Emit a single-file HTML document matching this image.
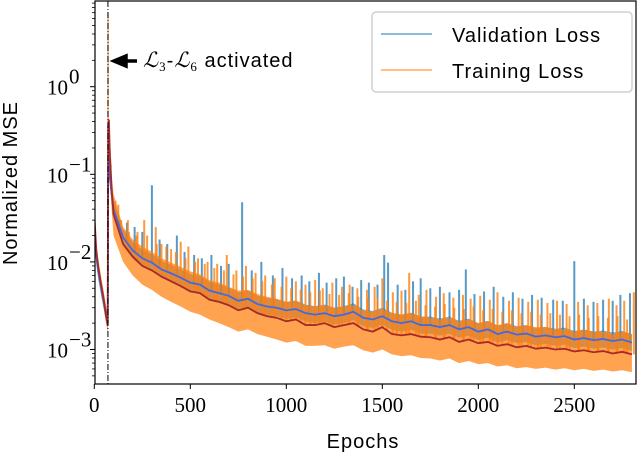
<!DOCTYPE html>
<html><head><meta charset="utf-8"><style>
body{margin:0;background:#fff;width:638px;height:460px;overflow:hidden}
svg{display:block}
.tk{font-family:"Liberation Serif",serif;font-size:21px;fill:#000}
.lb{font-family:"Liberation Sans",sans-serif;font-size:20px;fill:#000;letter-spacing:1px}
</style></head><body>
<svg id="chart" width="638" height="460"></svg>
<script>
const epochs=[0,10,20,30,40,50,60,70,72,76,80,90,100,150,200,250,300,350,400,450,500,550,600,650,700,750,800,850,900,950,1000,1050,1100,1150,1200,1250,1300,1350,1400,1450,1500,1550,1600,1650,1700,1750,1800,1850,1900,1950,2000,2050,2100,2150,2200,2250,2300,2350,2400,2450,2500,2550,2600,2650,2700,2750,2800];
const valMean=[0.03,0.012,0.008,0.006,0.0045,0.0035,0.0026,0.002,0.08,0.15,0.1,0.06,
.040,.019,.0135,.0110,.0098,.0082,.0074,.0066,.0058,.0055,.0047,.0044,.0041,.0036,.0038,.0033,.0031,.0030,.0028,.0029,.0026,.0025,.0026,.0024,.0025,.0027,.0023,.0022,.0024,.0021,.0020,.0021,.0019,.0019,.0018,.0019,.0017,.0018,.0016,.0017,.0015,.0016,.00148,.00152,.0014,.00145,.00138,.00142,.0013,.00135,.00128,.00132,.00125,.0013,.0012];
const trainMean=[0.035,0.014,0.009,0.0065,0.0048,0.0036,0.0025,0.0019,0.35,0.42,0.2,0.07,
.035,.016,.0115,.0090,.0080,.0068,.0060,.0053,.0046,.0044,.0037,.0035,.0032,.0028,.0030,.0026,.0024,.0023,.0021,.0022,.0019,.0019,.0020,.0018,.0019,.0020,.0017,.0016,.0018,.0015,.00145,.0015,.0014,.00138,.0013,.00138,.00122,.0013,.00118,.00122,.0011,.00115,.00106,.0011,.00102,.00105,.001,.00102,.00095,.00098,.00093,.00096,.0009,.00094,.00088];
const trainLow=[.03,.012,.0075,.0055,.004,.003,.0021,.0016,.2,.25,.1,.04,
.02,.010,.0070,.0055,.0048,.0040,.0035,.0031,.0027,.0025,.0022,.0020,.0018,.0016,.0017,.0015,.0014,.0013,.0012,.00125,.0011,.0011,.00112,.00102,.00108,.00112,.00098,.00092,.001,.00088,.00084,.00086,.0008,.00079,.00075,.00079,.0007,.00074,.00068,.0007,.00064,.00066,.00061,.00063,.0006,.00062,.00059,.00061,.00058,.0006,.00057,.00059,.00056,.00058,.00055];
const trainHigh=[.04,.016,.011,.008,.006,.0045,.0032,.0026,.4,.45,.25,.1,
.06,.025,.018,.015,.013,.011,.0098,.0088,.0078,.0072,.0062,.0058,.0052,.0047,.0048,.0043,.004,.0038,.0035,.0036,.0032,.0031,.0032,.003,.0031,.0032,.0028,.0027,.0029,.0026,.0025,.0026,.0024,.0023,.0022,.0023,.0021,.0022,.002,.0021,.0019,.002,.0018,.0019,.0018,.0018,.0017,.0017,.0016,.0017,.0016,.0016,.0015,.0016,.0015];
const valSpikeEpochs=[130,170,210,250,300,340,380,430,470,520,560,610,660,700,770,820,870,930,980,1030,1080,1120,1170,1210,1260,1300,1345,1390,1430,1475,1510,1530,1580,1620,1660,1700,1750,1800,1850,1900,1935,1980,2030,2080,2130,2180,2230,2280,2330,2390,2440,2500,2550,2600,2650,2700,2740,2790];
const valSpikeValues=[0.03,0.028,0.025,0.022,0.075,0.018,0.016,0.02,0.013,0.012,0.011,0.012,0.009,0.0095,0.048,0.008,0.01,0.007,0.0085,0.0065,0.007,0.006,0.0075,0.0058,0.0065,0.0068,0.0052,0.0062,0.0058,0.0055,0.012,0.0098,0.0055,0.0048,0.006,0.0065,0.005,0.0052,0.0045,0.0048,0.0082,0.0043,0.0046,0.0052,0.004,0.0045,0.0038,0.0042,0.0039,0.0037,0.0036,0.0102,0.0038,0.0035,0.0037,0.0036,0.0042,0.0044];
const trainSpikeEpochs=[72,85,110,140,180,220,260,320,350,400,450,490,540,590,640,690,740,790,840,890,940,1000,1050,1100,1150,1190,1240,1290,1330,1370,1420,1460,1500,1555,1600,1640,1690,1730,1780,1820,1870,1920,1960,2010,2060,2100,2160,2210,2260,2310,2360,2410,2460,2520,2570,2620,2680,2720,2760,2810];
const trainSpikeValues=[7.0,0.13,0.05,0.03,0.022,0.02,0.03,0.025,0.016,0.014,0.017,0.015,0.011,0.01,0.0095,0.012,0.008,0.009,0.0075,0.007,0.0065,0.0068,0.006,0.0055,0.0062,0.005,0.0058,0.0052,0.0055,0.005,0.0048,0.0052,0.0065,0.0045,0.0047,0.0075,0.0042,0.0048,0.004,0.0044,0.0039,0.0042,0.0038,0.0041,0.0037,0.0045,0.0036,0.0039,0.0035,0.0037,0.0034,0.0036,0.0033,0.0035,0.0032,0.0034,0.0038,0.0032,0.0036,0.0045];
const trainSpike2Epochs=[125,175,225,275,325,375,425,475,525,575,625,675,725,775,825,875,925,975,1025,1075,1125,1175,1225,1275,1325,1375,1425,1475,1525,1575,1625,1675,1725,1775,1825,1875,1925,1975,2025,2075,2125,2175,2225,2275,2325,2375,2425,2475,2525,2575,2625,2675,2725,2775];
const trainSpike2Values=[.045,.03,.022,.02,.016,.015,.013,.011,.01,.0095,.0085,.008,.0072,.0068,.0065,.006,.0055,.0052,.005,.0048,.0045,.0047,.0043,.0042,.0044,.004,.0038,.0039,.0036,.0035,.0034,.0036,.0032,.0031,.0033,.003,.0029,.0031,.0028,.0029,.0027,.0028,.0026,.0027,.0025,.0026,.0025,.0024,.0025,.0023,.0024,.0023,.0024,.0022];
const xTicks=[0,500,1000,1500,2000,2500];
const yDecades=[0,-1,-2,-3];

const L=95,R=636,T=1,B=384;
const X=e=>94.3+e*0.192;
const Y=v=>86.7-87.6*Math.log10(v);
const svg=document.getElementById('chart');
const NS='http://www.w3.org/2000/svg';
function mk(tag,attrs,parent){const el=document.createElementNS(NS,tag);for(const k in attrs)el.setAttribute(k,attrs[k]);(parent||svg).appendChild(el);return el;}
function interp(arr,e){for(let i=1;i<epochs.length;i++){if(e<=epochs[i]){const t=(e-epochs[i-1])/(epochs[i]-epochs[i-1]);return Math.exp(Math.log(arr[i-1])*(1-t)+Math.log(arr[i])*t);}}return arr[arr.length-1];}

const clip=mk('clipPath',{id:'pc'});mk('rect',{x:L,y:T,width:R-L,height:B-T},clip);
const g=mk('g',{'clip-path':'url(#pc)'});



valSpikeEpochs.forEach((e,i)=>{const s=mk('line',{x1:X(e),x2:X(e),y1:Y(interp(valMean,e)),y2:Y(valSpikeValues[i]),stroke:'#1f77b4','stroke-opacity':0.75,'stroke-width':2},g);

});
let vb='';epochs.forEach((e,i)=>{vb+=(i?'L':'M')+X(e)+','+Y(valMean[i]*1.25);});
for(let i=epochs.length-1;i>=0;i--)vb+='L'+X(epochs[i])+','+Y(valMean[i]*0.8);
const vbp=mk('path',{d:vb+'Z',fill:'#1f77b4','fill-opacity':0.6},g);


let tb='';epochs.forEach((e,i)=>{tb+=(i?'L':'M')+X(e)+','+Y(trainHigh[i]);});
for(let i=epochs.length-1;i>=0;i--)tb+='L'+X(epochs[i])+','+Y(trainLow[i]);
const tbp=mk('path',{d:tb+'Z',fill:'#ff7f0e','fill-opacity':0.72},g);


trainSpikeEpochs.forEach((e,i)=>{const s=mk('line',{x1:X(e),x2:X(e),y1:Y(interp(trainMean,e)),y2:Y(trainSpikeValues[i]),stroke:'#ff7f0e','stroke-opacity':0.8,'stroke-width':e===72?1.2:2},g);

});
trainSpike2Epochs.forEach((e,i)=>{const s=mk('line',{x1:X(e),x2:X(e),y1:Y(interp(trainMean,e)),y2:Y(trainSpike2Values[i]),stroke:'#ff7f0e','stroke-opacity':0.8,'stroke-width':2},g);

});
let vp='';epochs.forEach((e,i)=>{vp+=(i?'L':'M')+X(e)+','+Y(valMean[i]);});
const vl=mk('path',{d:vp,fill:'none',stroke:'#4169e1','stroke-width':1.8},g);


let tp='';epochs.forEach((e,i)=>{tp+=(i?'L':'M')+X(e)+','+Y(trainMean[i]);});
const tl=mk('path',{d:tp,fill:'none',stroke:'#a52a2a','stroke-width':1.8},g);


const al=mk('line',{x1:X(71),x2:X(71),y1:T,y2:B,stroke:'#000','stroke-width':1,'stroke-dasharray':'6,2,1,2'},g);



const fr=mk('rect',{x:L,y:T,width:R-L,height:B-T,fill:'none',stroke:'#000','stroke-width':1.2});


xTicks.forEach(t=>{mk('line',{x1:X(t),x2:X(t),y1:B,y2:B+5,stroke:'#000'});
const tx=mk('text',{x:X(t),y:B+28,'text-anchor':'middle',class:'tk'});tx.textContent=t;

});
yDecades.forEach(d=>{const y=Y(Math.pow(10,d));mk('line',{x1:L-5,x2:L,y1:y,y2:y,stroke:'#000'});
const tx=mk('text',{x:L-27,y:y+8,'text-anchor':'end',class:'tk'});tx.textContent='10';


const sp=mk('text',{x:L-26,y:y-3,'text-anchor':'start',class:'tk','font-size':'14px'});sp.textContent=d===0?'0':'\u2212'+(-d);

});
for(let d=-4;d<=0;d++)for(let m=2;m<=9;m++){const y=Y(m*Math.pow(10,d));if(y>T&&y<B)mk('line',{x1:L-3,x2:L,y1:y,y2:y,stroke:'#000','stroke-width':0.8});}
const xl=mk('text',{x:363,y:448,'text-anchor':'middle',class:'lb','font-size':'21px'});xl.textContent='Epochs';


const yl=mk('text',{x:0,y:0,'text-anchor':'middle',class:'lb','font-size':'21px','letter-spacing':'2px',transform:'translate(17,183) rotate(-90)'});yl.textContent='Normalized MSE';


const ar=mk('path',{d:'M137,61 L122,61 M126,56 L114,61 L126,66 Z',stroke:'#000','stroke-width':3.5,fill:'#000'});


const an=mk('text',{x:143,y:67,class:'lb','font-size':'18px'});
an.innerHTML='<tspan font-family="Liberation Serif,serif" font-style="italic" font-size="21px">ℒ</tspan><tspan font-family="Liberation Serif,serif" font-size="13px" dy="4">3</tspan><tspan dy="-4">-</tspan><tspan font-family="Liberation Serif,serif" font-style="italic" font-size="21px">ℒ</tspan><tspan font-family="Liberation Serif,serif" font-size="13px" dy="4">6</tspan><tspan dy="-4">  activated</tspan>';


const lg=mk('g',{});


mk('rect',{x:372,y:12,width:260,height:80,rx:4,fill:'#fff','fill-opacity':0.85,stroke:'#d0d0d0','stroke-width':1.5},lg);
[['Validation Loss','#1f77b4',34],['Training Loss','#ff7f0e',70]].forEach(([n,c,y])=>{
const e=mk('g',{},lg);


mk('line',{x1:381,x2:432,y1:y,y2:y,stroke:c,'stroke-width':1},e);
const t=mk('text',{x:452,y:y+8,class:'lb','font-size':'21px','letter-spacing':'1.4px'},e);t.textContent=n;});
</script>
</body></html>
